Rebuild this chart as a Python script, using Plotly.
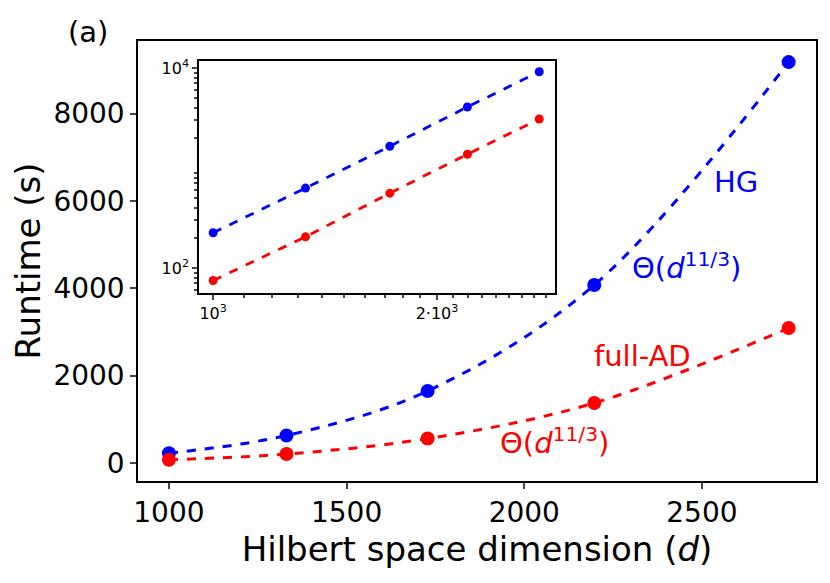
import plotly.graph_objects as go

d = [1000, 1331, 1728, 2197, 2744]
hg = [225, 630, 1650, 4076, 9180]
ad = [75, 205, 560, 1374, 3090]
blue, red = "#0000ff", "#ff0000"
F = "DejaVu Sans"
W, H = 830, 583
O = 8  # page body margin offset

def px(x):
    return (x - O) / W

def py(y):
    return 1 - (y - O) / H

fig = go.Figure()
for y, c in [(hg, blue), (ad, red)]:
    fig.add_trace(go.Scatter(x=d, y=y, mode="lines", line=dict(color=c, width=3, dash="dash", shape="spline"), xaxis="x", yaxis="y"))
    fig.add_trace(go.Scatter(x=d, y=y, mode="markers", marker=dict(color=c, size=14), xaxis="x", yaxis="y"))
    fig.add_trace(go.Scatter(x=d, y=y, mode="lines+markers", line=dict(color=c, width=2.8, dash="dash"), marker=dict(color=c, size=9), xaxis="x2", yaxis="y2"))

ax = dict(showline=True, linecolor="black", linewidth=1.5, mirror=True, ticks="outside", ticklen=6, tickwidth=1.5,
          showgrid=False, zeroline=False, automargin=False)
fig.update_layout(
    width=W, height=H, margin=dict(l=0, r=0, t=0, b=0), showlegend=False,
    plot_bgcolor="white", paper_bgcolor="white", font=dict(family=F, color="black"),
    xaxis=dict(ax, domain=[px(138), px(816)], range=[913, 2821], tickvals=[1000, 1500, 2000, 2500], tickfont=dict(size=28),
               title=dict(text="Hilbert space dimension (<i>d</i>)", font=dict(size=34), standoff=2)),
    yaxis=dict(ax, domain=[py(481), py(41)], range=[-412, 9663], tickvals=[0, 2000, 4000, 6000, 8000], tickfont=dict(size=28),
               title=dict(text="Runtime (s)", font=dict(size=34), standoff=4)),
    xaxis2=dict(ax, type="log", domain=[px(199), px(555)], anchor="y2", range=[2.981, 3.4596], tickvals=[1000, 2000],
                ticktext=["10<sup>3</sup>", "2·10<sup>3</sup>"], tickfont=dict(size=16), ticklen=5,
                minor=dict(ticks="outside", ticklen=3, tickvals=[1100,1200,1300,1400,1500,1600,1700,1800,1900,2100,2200,2300,2400,2500,2600,2700,2800])),
    yaxis2=dict(ax, type="log", domain=[py(293), py(61)], anchor="x2", range=[1.75, 4.07], tickvals=[100, 10000],
                ticktext=["10<sup>2</sup>", "10<sup>4</sup>"], tickfont=dict(size=16), ticklen=5,
                minor=dict(ticks="outside", ticklen=3, tickvals=[60,70,80,90,200,300,400,500,600,700,800,900,2000,3000,4000,5000,6000,7000,8000,9000])),
)
ann = [
    ("(a)", 88, 32, "black", "center"),
    ("HG", 736, 182, blue, "center"),
    ("Θ(<i>d</i><sup>11/3</sup>)", 630, 266, blue, "left"),
    ("full-AD", 642, 356, red, "center"),
    ("Θ(<i>d</i><sup>11/3</sup>)", 498, 441, red, "left"),
]
for t, x, y, c, xa in ann:
    fig.add_annotation(text=t, x=px(x), y=py(y), xref="paper", yref="paper", xanchor=xa, yanchor="middle",
                       showarrow=False, font=dict(size=29, color=c))
fig.write_html("out.html")
